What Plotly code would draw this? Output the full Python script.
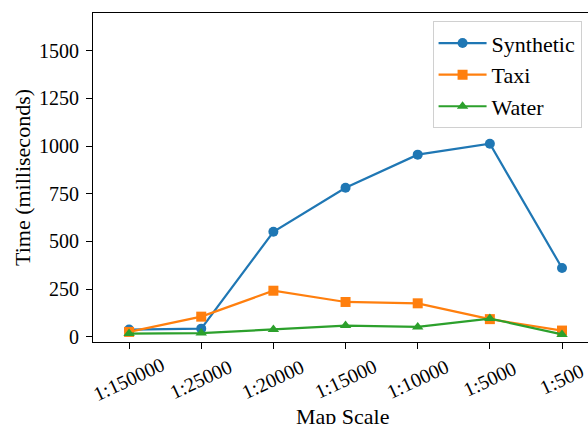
import plotly.graph_objects as go

# Map scales on the x axis
scales = ["1:150000", "1:25000", "1:20000", "1:15000", "1:10000", "1:5000", "1:500"]

# Query time in milliseconds per dataset
synthetic = [37, 42, 550, 781, 955, 1012, 360]
taxi = [25, 105, 241, 182, 175, 92, 32]
water = [16, 19, 38, 58, 51, 95, 12]

y_ticks = [0, 250, 500, 750, 1000, 1250, 1500]

FONT = "Liberation Serif"
colors = ["#1f77b4", "#ff7f0e", "#2ca02c"]

fig = go.Figure()
for name, vals, color, sym in [
    ("Synthetic", synthetic, colors[0], "circle"),
    ("Taxi", taxi, colors[1], "square"),
    ("Water", water, colors[2], "triangle-up"),
]:
    fig.add_trace(go.Scatter(
        x=scales, y=vals, name=name, mode="lines+markers",
        line=dict(color=color, width=2.2),
        marker=dict(symbol=sym, size=10, color=color),
    ))

# Rotated category labels, centred under each tick
for s in scales:
    fig.add_annotation(
        x=s, xref="x", y=0, yref="paper", yshift=-37,
        text=s, showarrow=False, textangle=-25,
        xanchor="center", yanchor="middle",
        font=dict(family=FONT, size=20, color="black"),
    )

# Axis titles
fig.add_annotation(
    x=0.505, xref="paper", y=0, yref="paper", yshift=-74,
    text="Map Scale", showarrow=False, xanchor="center", yanchor="middle",
    font=dict(family=FONT, size=22, color="black"),
)
fig.add_annotation(
    x=0, xref="paper", xshift=-70.5, y=0.5, yref="paper",
    text="Time (milliseconds)", showarrow=False, textangle=-90,
    xanchor="center", yanchor="middle",
    font=dict(family=FONT, size=22, color="black"),
)

fig.update_layout(
    width=588, height=424,
    margin=dict(l=93, r=0, t=13, b=82),
    paper_bgcolor="white", plot_bgcolor="white",
    font=dict(family=FONT, color="black"),
    xaxis=dict(
        type="category", range=[-0.5, 6.36],
        showticklabels=False, ticks="outside", ticklen=6, tickcolor="black",
        showline=True, linecolor="black", linewidth=1.2, mirror=True,
        showgrid=False, zeroline=False,
    ),
    yaxis=dict(
        range=[-28, 1698], tickvals=y_ticks,
        ticks="outside", ticklen=6, tickcolor="black", ticklabelstandoff=3,
        tickfont=dict(family=FONT, size=20, color="black"),
        showline=True, linecolor="black", linewidth=1.2,
        showgrid=False, zeroline=False,
    ),
    legend=dict(
        x=0.987, y=0.975, xanchor="right", yanchor="top",
        itemwidth=48,
        bgcolor="rgba(255,255,255,0.8)", bordercolor="#d0d0d0", borderwidth=1,
        font=dict(family=FONT, size=22, color="black"),
    ),
    showlegend=True,
)

fig.write_html("out.html")
